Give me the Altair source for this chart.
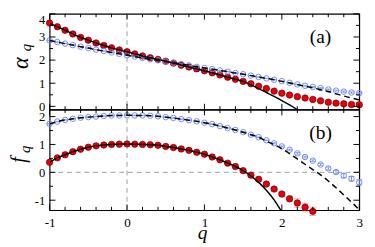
import altair as alt
import pandas as pd

# ---------------- data ----------------
q = [-1.0, -0.9, -0.8, -0.7, -0.6, -0.5, -0.4, -0.3, -0.2, -0.1, 0.0,
     0.1, 0.2, 0.3, 0.4, 0.5, 0.6, 0.7, 0.8, 0.9, 1.0,
     1.1, 1.2, 1.3, 1.4, 1.5, 1.6, 1.7, 1.8, 1.9, 2.0,
     2.1, 2.2, 2.3, 2.4, 2.5, 2.6, 2.7, 2.8, 2.9, 3.0]

# panel (a): alpha_q
alpha_red = [3.60, 3.44, 3.29, 3.13, 2.98, 2.86, 2.74, 2.63, 2.53, 2.44, 2.36,
             2.27, 2.18, 2.10, 2.03, 1.95, 1.87, 1.78, 1.70, 1.62, 1.54,
             1.45, 1.36, 1.26, 1.17, 1.08, 0.98, 0.87, 0.77, 0.66, 0.57,
             0.49, 0.42, 0.36, 0.30, 0.24, 0.18, 0.14, 0.11, 0.08, 0.07]
alpha_red_err = [0.01, 0.01, 0.01, 0.01, 0.01, 0.01, 0.01, 0.01, 0.01, 0.01, 0.01,
                 0.01, 0.01, 0.01, 0.01, 0.01, 0.01, 0.01, 0.01, 0.01, 0.01,
                 0.01, 0.01, 0.01, 0.01, 0.01, 0.01, 0.01, 0.01, 0.01, 0.02,
                 0.02, 0.03, 0.03, 0.04, 0.04, 0.05, 0.05, 0.06, 0.07, 0.08]
alpha_blue = [2.85, 2.78, 2.71, 2.65, 2.58, 2.52, 2.45, 2.39, 2.33, 2.27, 2.21,
              2.15, 2.09, 2.03, 1.99, 1.94, 1.89, 1.83, 1.77, 1.71, 1.66,
              1.61, 1.55, 1.50, 1.44, 1.39, 1.33, 1.27, 1.21, 1.15, 1.09,
              1.02, 0.95, 0.89, 0.84, 0.79, 0.73, 0.68, 0.64, 0.60, 0.57]
alpha_blue_err = [0.01, 0.01, 0.01, 0.01, 0.01, 0.01, 0.01, 0.01, 0.01, 0.01, 0.01,
                  0.01, 0.01, 0.01, 0.01, 0.01, 0.01, 0.01, 0.01, 0.01, 0.01,
                  0.01, 0.01, 0.01, 0.01, 0.01, 0.01, 0.01, 0.01, 0.01, 0.01,
                  0.01, 0.01, 0.02, 0.02, 0.02, 0.02, 0.02, 0.03, 0.03, 0.03]
alpha_solid = [3.60, 3.44, 3.29, 3.13, 2.98, 2.86, 2.74, 2.63, 2.53, 2.44, 2.36,
               2.27, 2.18, 2.10, 2.03, 1.95, 1.87, 1.78, 1.70, 1.62, 1.54,
               1.45, 1.36, 1.26, 1.17, 1.08, 0.93, 0.77, 0.60, 0.43, 0.25,
               0.06, -0.14]
alpha_dashed = [2.85, 2.78, 2.71, 2.65, 2.58, 2.52, 2.45, 2.39, 2.33, 2.27, 2.21,
                2.15, 2.09, 2.03, 1.99, 1.94, 1.89, 1.83, 1.77, 1.71, 1.66,
                1.61, 1.55, 1.50, 1.44, 1.39, 1.33, 1.27, 1.21, 1.15, 1.08,
                1.01, 0.94, 0.87, 0.80, 0.72, 0.64, 0.54, 0.45, 0.36, 0.28]

# panel (b): f_q
f_red = [0.36, 0.52, 0.63, 0.74, 0.83, 0.90, 0.95, 0.98, 1.00, 1.01, 1.02,
         1.01, 1.00, 0.99, 0.97, 0.93, 0.89, 0.84, 0.79, 0.72, 0.65,
         0.55, 0.45, 0.33, 0.21, 0.06, -0.10, -0.25, -0.42, -0.60, -0.78,
         -0.95, -1.10, -1.25, -1.40]
f_red_err = [0.01, 0.01, 0.01, 0.01, 0.01, 0.01, 0.01, 0.01, 0.01, 0.01, 0.01,
             0.01, 0.01, 0.01, 0.01, 0.01, 0.01, 0.01, 0.01, 0.01, 0.01,
             0.01, 0.01, 0.01, 0.01, 0.01, 0.01, 0.01, 0.02, 0.04, 0.06,
             0.09, 0.15, 0.14, 0.15]
f_blue = [1.74, 1.82, 1.88, 1.92, 1.96, 1.98, 2.00, 2.02, 2.04, 2.04, 2.05,
          2.04, 2.04, 2.03, 2.01, 1.98, 1.95, 1.91, 1.87, 1.83, 1.78,
          1.73, 1.66, 1.59, 1.52, 1.44, 1.35, 1.26, 1.15, 1.04, 0.93,
          0.81, 0.68, 0.55, 0.42, 0.28, 0.14, 0.01, -0.12, -0.23, -0.36]
f_blue_err = [0.01, 0.01, 0.01, 0.01, 0.01, 0.01, 0.01, 0.01, 0.01, 0.01, 0.01,
              0.01, 0.01, 0.01, 0.01, 0.01, 0.01, 0.01, 0.01, 0.01, 0.01,
              0.01, 0.01, 0.01, 0.01, 0.01, 0.01, 0.01, 0.01, 0.02, 0.02,
              0.02, 0.03, 0.03, 0.03, 0.04, 0.05, 0.06, 0.07, 0.08, 0.10]
f_solid = [0.36, 0.52, 0.63, 0.74, 0.83, 0.90, 0.95, 0.98, 1.00, 1.01, 1.02,
           1.01, 1.00, 0.99, 0.97, 0.93, 0.89, 0.84, 0.79, 0.72, 0.65,
           0.55, 0.45, 0.33, 0.21, 0.06, -0.13, -0.36, -0.64, -0.99, -1.42]
f_dashed = [1.74, 1.82, 1.88, 1.92, 1.96, 1.98, 2.00, 2.02, 2.04, 2.04, 2.05,
            2.04, 2.04, 2.03, 2.01, 1.98, 1.95, 1.91, 1.87, 1.83, 1.78,
            1.73, 1.66, 1.59, 1.52, 1.44, 1.35, 1.26, 1.12, 0.99, 0.85,
            0.67, 0.48, 0.29, 0.10, -0.09, -0.31, -0.55, -0.81, -1.07, -1.34]

x_major = [-1, 0, 1, 2, 3]
x_minor = [-0.8, -0.6, -0.4, -0.2, 0.2, 0.4, 0.6, 0.8, 1.2, 1.4, 1.6, 1.8,
           2.2, 2.4, 2.6, 2.8]
alpha_major = [0, 1, 2, 3, 4]
alpha_minor = [0.5, 1.5, 2.5, 3.5]
f_major = [-1, 0, 1, 2]
f_minor = [-0.5, 0.5, 1.5]
ref_q = [0]
ref_f = [0]

# ---------------- style ----------------
W, H1, H2 = 320, 99, 104
FONT = "Liberation Serif"
RED_FILL = "#e5000c"
RED_EDGE = "#6e0000"
RED_ERR = "#f08080"
BLUE = "#6f8cf3"
GRAY = "#9b9b9b"
MAJ, MIN = 6, 3.5

XS = alt.Scale(domain=[-1, 3], nice=False, zero=False)
YA = alt.Scale(domain=[-0.14, 4.0], nice=False, zero=False)
YF = alt.Scale(domain=[-1.36, 2.25], nice=False, zero=False)

dummy = alt.Data(values=[{}])


def panel(H, ys, ymaj, ymin, rq, rv, re, bv, be, sq, sv, dv, tag, main, sub,
          mpos, spos, msize, show_x, zero_line, flush):
    red = pd.DataFrame({"q": rq, "v": rv,
                        "lo": [a - b for a, b in zip(rv, re)],
                        "hi": [a + b for a, b in zip(rv, re)]})
    blue = pd.DataFrame({"q": q, "v": bv,
                         "lo": [a - b for a, b in zip(bv, be)],
                         "hi": [a + b for a, b in zip(bv, be)]})
    solid = pd.DataFrame({"q": sq, "v": sv})
    dashed = pd.DataFrame({"q": q, "v": dv})

    yaxis = alt.Axis(values=ymaj, ticks=False, domain=False, grid=False,
                     labelPadding=5, labelFont=FONT, labelFontSize=13,
                     labelColor="black", title=None,
                     labelExpr="'' + datum.value", labelFlush=flush)
    if show_x:
        xaxis = alt.Axis(values=x_major, ticks=False, domain=False, grid=False,
                         labelPadding=6, labelFont=FONT, labelFontSize=13.5,
                         labelColor="black", title=None, labelFlush=False,
                         labelExpr="'' + datum.value")
    else:
        xaxis = None

    def X(f):
        return alt.X(f, scale=XS, axis=xaxis)

    def Y(f):
        return alt.Y(f, scale=ys, axis=yaxis)

    layers = []
    layers.append(alt.Chart(pd.DataFrame({"v": ref_q})).mark_rule(
        color=GRAY, strokeDash=[5, 4], strokeWidth=1).encode(x=X("v:Q")))
    if zero_line:
        layers.append(alt.Chart(pd.DataFrame({"v": ref_f})).mark_rule(
            color=GRAY, strokeDash=[5, 4], strokeWidth=1).encode(y=Y("v:Q")))

    # red error bars and points
    layers.append(alt.Chart(red).mark_rule(color=RED_ERR, strokeWidth=1).encode(
        x=X("q:Q"), y=Y("lo:Q"), y2="hi:Q"))
    for c in ("lo", "hi"):
        layers.append(alt.Chart(red).mark_tick(color=RED_ERR, thickness=1, size=7,
                                               orient="horizontal").encode(
            x=X("q:Q"), y=Y(f"{c}:Q")))
    layers.append(alt.Chart(red).mark_point(
        shape="circle", filled=True, fill=RED_FILL, stroke=RED_EDGE,
        strokeWidth=0.7, size=44, opacity=1).encode(x=X("q:Q"), y=Y("v:Q")))

    # blue open points and error bars
    layers.append(alt.Chart(blue).mark_point(
        shape="circle", filled=False, stroke=BLUE, strokeWidth=1, size=32,
        opacity=1).encode(x=X("q:Q"), y=Y("v:Q")))
    layers.append(alt.Chart(blue).mark_rule(color=BLUE, strokeWidth=1).encode(
        x=X("q:Q"), y=Y("lo:Q"), y2="hi:Q"))
    for c in ("lo", "hi"):
        layers.append(alt.Chart(blue).mark_tick(color=BLUE, thickness=1, size=6,
                                                orient="horizontal").encode(
            x=X("q:Q"), y=Y(f"{c}:Q")))

    # theory curves
    layers.append(alt.Chart(solid).mark_line(
        color="black", strokeWidth=1.5, interpolate="monotone", clip=True).encode(
        x=X("q:Q"), y=Y("v:Q")))
    layers.append(alt.Chart(dashed).mark_line(
        color="black", strokeWidth=1.5, strokeDash=[6, 4], interpolate="monotone",
        clip=True).encode(x=X("q:Q"), y=Y("v:Q")))

    # inward ticks on all four sides
    for vals, ln in ((x_major, MAJ), (x_minor, MIN)):
        d = pd.DataFrame({"v": vals})
        layers.append(alt.Chart(d).mark_rule(color="black", strokeWidth=1).encode(
            x=X("v:Q"), y=alt.value(H), y2=alt.value(H - ln)))
        layers.append(alt.Chart(d).mark_rule(color="black", strokeWidth=1).encode(
            x=X("v:Q"), y=alt.value(0), y2=alt.value(ln)))
    for vals, ln in ((ymaj, MAJ), (ymin, MIN)):
        d = pd.DataFrame({"v": vals})
        layers.append(alt.Chart(d).mark_rule(color="black", strokeWidth=1).encode(
            y=Y("v:Q"), x=alt.value(0), x2=alt.value(ln)))
        layers.append(alt.Chart(d).mark_rule(color="black", strokeWidth=1).encode(
            y=Y("v:Q"), x=alt.value(W), x2=alt.value(W - ln)))

    # texts
    layers.append(alt.Chart(dummy).mark_text(
        text=tag, font=FONT, fontSize=20, color="black", align="center",
        baseline="middle").encode(x=alt.value(280), y=alt.value(24)))
    layers.append(alt.Chart(dummy).mark_text(
        text=main, font=FONT, fontSize=msize, fontStyle="italic", color="black",
        angle=270, align="center", baseline="middle").encode(
        x=alt.value(mpos[0]), y=alt.value(mpos[1])))
    layers.append(alt.Chart(dummy).mark_text(
        text=sub, font=FONT, fontSize=15, fontStyle="italic", color="black",
        angle=270, align="center", baseline="middle").encode(
        x=alt.value(spos[0]), y=alt.value(spos[1])))
    if show_x:
        layers.append(alt.Chart(dummy).mark_text(
            text="q", font=FONT, fontSize=20, fontStyle="italic", color="black",
            align="center", baseline="alphabetic").encode(
            x=alt.value(158), y=alt.value(H + 30)))

    return alt.layer(*layers).properties(width=W, height=H)


top = panel(H1, YA, alpha_major, alpha_minor, q, alpha_red, alpha_red_err,
            alpha_blue, alpha_blue_err, q[:33], alpha_solid, alpha_dashed,
            "(a)", "α", "q", (-29, 51), (-24, 35), 23, False, False, True)
bottom = panel(H2, YF, f_major, f_minor, q[:35], f_red, f_red_err,
               f_blue, f_blue_err, q[:31], f_solid, f_dashed,
               "(b)", "f", "q", (-31, 52), (-25, 41), 21, True, True, False)

chart = alt.vconcat(top, bottom, spacing=0, bounds="flush").configure_view(
    stroke="black", strokeWidth=1.2).properties(
    padding={"left": 0, "top": 0, "right": 2, "bottom": 0})

chart.save("out.html", embed_options={"renderer": "svg", "actions": False})
